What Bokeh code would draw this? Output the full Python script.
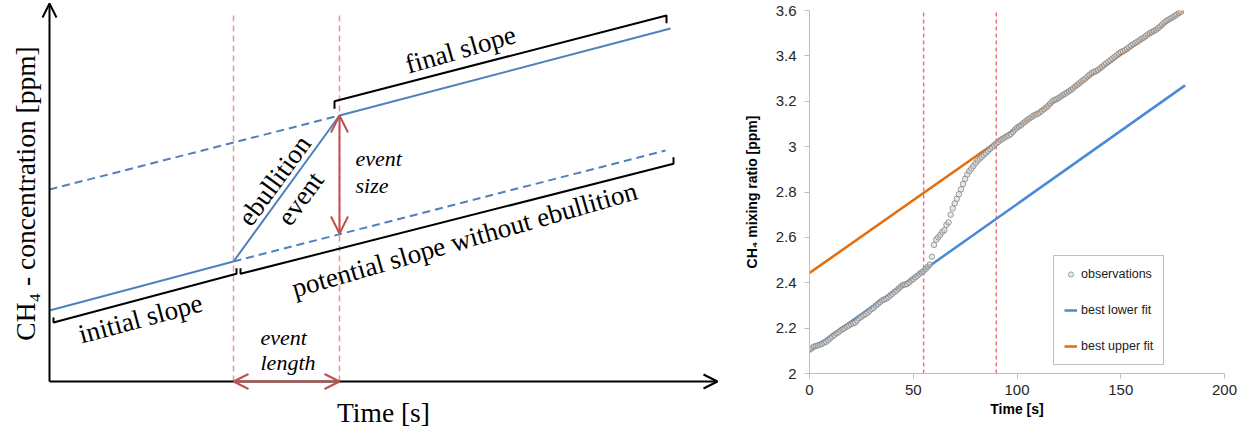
import math
from bokeh.plotting import figure
from bokeh.layouts import row
from bokeh.models import (Range1d, Arrow, OpenHead, FixedTicker, CustomJSTickFormatter,
                          Legend, LegendItem, Label)
from bokeh.core.properties import value
from bokeh.embed import file_html
from bokeh.resources import INLINE

# ------------------------------------------------------------------
# Left panel: schematic (arbitrary schematic units: time, concentration)
# ------------------------------------------------------------------
axis_time_end = 668
axis_conc_top = 378
event_bounds_schem = [184, 290]          # event start / end (schematic time)
vline_top = 366

initial_t, initial_c = [0, 184], [71, 120]
event_t, event_c = [184, 290], [120, 266]
upper_dash_t, upper_dash_c = [0, 290], [192, 266]
final_t, final_c = [290, 621], [266, 353]
lower_dash_t, lower_dash_c = [184, 616], [120, 231]

bracket_initial_t = [4, 4, 187, 187]
bracket_initial_c = [64, 59, 107.7, 113.3]
bracket_potential_t = [191, 191, 624, 624]
bracket_potential_c = [113.3, 107.7, 217.7, 224.3]
bracket_final_t = [285, 285, 617, 617]
bracket_final_c = [272.7, 280.3, 366, 358.3]

event_size_c = [266, 148]                # vertical arrow (at event end)

schem_labels = ["initial slope", "potential slope without ebullition", "final slope",
                "ebullition", "event"]
schem_label_t = [91, 415, 411, 225, 251]
schem_label_c = [63, 142, 332, 201, 183]
schem_label_angle_deg = [15, 16, 16, 54, 54]

italic_labels = ["event", "size", "event", "length"]
italic_label_t = [306, 306, 211, 211]
italic_label_c = [223, 196, 44, 19]

BLUE_S = "#4f81bd"
RED_S = "#c0504d"
RED_DASH = "#e39a97"
SERIF = "Liberation Serif"

p1 = figure(width=740, height=429, x_range=Range1d(-49, 691), y_range=Range1d(-48, 381),
            x_axis_type=None, y_axis_type=None, output_backend="svg",
            toolbar_location=None, min_border=0)
p1.outline_line_color = None
p1.grid.visible = False

for tb in event_bounds_schem:
    p1.line([tb, tb], [0, vline_top], line_color=RED_DASH, line_width=1.5, line_dash="6 4")

p1.line(initial_t, initial_c, line_color=BLUE_S, line_width=2)
p1.line(event_t, event_c, line_color=BLUE_S, line_width=2)
p1.line(final_t, final_c, line_color=BLUE_S, line_width=2)
p1.line(upper_dash_t, upper_dash_c, line_color=BLUE_S, line_width=2, line_dash="8 5")
p1.line(lower_dash_t, lower_dash_c, line_color=BLUE_S, line_width=2, line_dash="8 5")

for bt, bc in [(bracket_initial_t, bracket_initial_c),
               (bracket_potential_t, bracket_potential_c),
               (bracket_final_t, bracket_final_c)]:
    p1.line(bt, bc, line_color="black", line_width=2)

p1.add_layout(Arrow(end=OpenHead(size=14, line_width=2, line_color="black"),
                    x_start=0, y_start=0, x_end=0, y_end=axis_conc_top,
                    line_width=2, line_color="black"))
p1.add_layout(Arrow(end=OpenHead(size=14, line_width=2, line_color="black"),
                    x_start=0, y_start=0, x_end=axis_time_end, y_end=0,
                    line_width=2, line_color="black"))

p1.add_layout(Arrow(start=OpenHead(size=17, line_width=2, line_color=RED_S),
                    end=OpenHead(size=17, line_width=2, line_color=RED_S),
                    x_start=event_bounds_schem[1], y_start=event_size_c[0],
                    x_end=event_bounds_schem[1], y_end=event_size_c[1],
                    line_width=2, line_color=RED_S))
p1.add_layout(Arrow(start=OpenHead(size=15, line_width=2, line_color=RED_S),
                    end=OpenHead(size=15, line_width=2, line_color=RED_S),
                    x_start=event_bounds_schem[0], y_start=0,
                    x_end=event_bounds_schem[1], y_end=0,
                    line_width=2, line_color=RED_S))

p1.text(x=schem_label_t, y=schem_label_c, text=schem_labels,
        angle=[math.radians(a) for a in schem_label_angle_deg],
        text_font=value(SERIF), text_font_size="27px", text_color="black",
        text_align="center", text_baseline="middle")
p1.text(x=italic_label_t, y=italic_label_c, text=italic_labels,
        text_font=value(SERIF), text_font_size="22px", text_font_style="italic",
        text_color="black", text_align="left", text_baseline="middle")
p1.text(x=[-24], y=[188], text=["CH\u2084 - concentration [ppm]"], angle=math.pi / 2,
        text_font=value(SERIF), text_font_size="27.5px", text_color="black",
        text_align="center", text_baseline="middle")
p1.add_layout(Label(x=334, y=-31, text="Time [s]", text_font=SERIF, text_font_size="27.5px",
                    text_color="black", text_align="center", text_baseline="middle"))

# ------------------------------------------------------------------
# Right panel: observations and fits
# ------------------------------------------------------------------
obs_time = list(range(180))
obs_conc = [
    2.105, 2.110, 2.118, 2.121, 2.124, 2.127, 2.131, 2.136, 2.140, 2.148,
    2.156, 2.163, 2.170, 2.177, 2.182, 2.190, 2.196, 2.201, 2.207, 2.212,
    2.218, 2.222, 2.224, 2.234, 2.244, 2.250, 2.257, 2.262, 2.268, 2.277,
    2.285, 2.290, 2.300, 2.307, 2.315, 2.322, 2.326, 2.330, 2.337, 2.345,
    2.352, 2.360, 2.366, 2.375, 2.383, 2.390, 2.392, 2.395, 2.401, 2.410,
    2.417, 2.424, 2.431, 2.439, 2.446, 2.452, 2.461, 2.470, 2.480, 2.515,
    2.567, 2.590, 2.600, 2.611, 2.624, 2.632, 2.655, 2.666, 2.700, 2.728,
    2.750, 2.770, 2.790, 2.812, 2.835, 2.858, 2.877, 2.892, 2.903, 2.915,
    2.927, 2.938, 2.947, 2.955, 2.964, 2.972, 2.981, 2.990, 2.998, 3.006,
    3.014, 3.021, 3.029, 3.034, 3.040, 3.045, 3.050, 3.056, 3.065, 3.075,
    3.084, 3.089, 3.095, 3.104, 3.110, 3.118, 3.124, 3.130, 3.137, 3.141,
    3.145, 3.151, 3.158, 3.165, 3.172, 3.180, 3.190, 3.199, 3.205, 3.209,
    3.214, 3.220, 3.227, 3.232, 3.238, 3.244, 3.250, 3.257, 3.265, 3.272,
    3.279, 3.287, 3.294, 3.300, 3.309, 3.317, 3.324, 3.329, 3.332, 3.338,
    3.345, 3.352, 3.360, 3.367, 3.374, 3.380, 3.388, 3.395, 3.402, 3.410,
    3.417, 3.420, 3.425, 3.431, 3.438, 3.445, 3.451, 3.457, 3.462, 3.468,
    3.475, 3.480, 3.487, 3.494, 3.500, 3.505, 3.510, 3.515, 3.522, 3.530,
    3.538, 3.547, 3.554, 3.560, 3.565, 3.570, 3.576, 3.582, 3.589, 3.594,
]
lower_fit_time, lower_fit_conc = [0, 181], [2.100, 3.270]
upper_fit_time, upper_fit_conc = [0, 180], [2.443, 3.598]
event_bounds = [55, 90]
x_ticks = [0, 50, 100, 150, 200]
y_ticks = [2.0, 2.2, 2.4, 2.6, 2.8, 3.0, 3.2, 3.4, 3.6]

BLUE = "#4a89d8"
ORANGE = "#e46c0a"
SANS = "Liberation Sans"

p2 = figure(width=511, height=429, x_range=Range1d(0, 200), y_range=Range1d(2, 3.6),
            output_backend="svg", toolbar_location=None,
            min_border_left=68, min_border_right=27, min_border_top=10, min_border_bottom=56)
p2.outline_line_color = None
p2.grid.visible = False

for tb in event_bounds:
    p2.line([tb, tb], [2, 3.6], line_color="#f2727a", line_width=1.5, line_dash="4 3")

r_low = p2.line(lower_fit_time, lower_fit_conc, line_color=BLUE, line_width=2.5)
r_up = p2.line(upper_fit_time, upper_fit_conc, line_color=ORANGE, line_width=2.5)
r_obs = p2.scatter(obs_time, obs_conc, marker="circle", size=5.5,
                   fill_color="#d4d4d4", fill_alpha=0.5,
                   line_color="#808080", line_alpha=0.75, line_width=1)

p2.xaxis.ticker = FixedTicker(ticks=x_ticks)
p2.yaxis.ticker = FixedTicker(ticks=y_ticks)
p2.yaxis.formatter = CustomJSTickFormatter(code="return Number(tick.toFixed(1)).toString();")
for ax in (p2.xaxis, p2.yaxis):
    ax.axis_line_color = "#bfbfbf"
    ax.major_tick_line_color = "#bfbfbf"
    ax.major_tick_out = 5
    ax.major_tick_in = 0
    ax.minor_tick_line_color = None
    ax.major_label_text_font = SANS
    ax.major_label_text_font_size = "15px"
    ax.major_label_text_color = "#262626"
    ax.axis_label_text_font = SANS
    ax.axis_label_text_font_size = "14px"
    ax.axis_label_text_font_style = "bold"
    ax.axis_label_text_color = "black"
p2.xaxis.axis_label = "Time [s]"
p2.xaxis.major_label_standoff = 6
p2.xaxis.axis_label_standoff = 3
p2.yaxis.axis_label = "CH\u2084 mixing ratio [ppm]"
p2.yaxis.major_label_standoff = 8
p2.yaxis.axis_label_standoff = 13

legend = Legend(items=[LegendItem(label="observations", renderers=[r_obs]),
                       LegendItem(label="best lower fit", renderers=[r_low]),
                       LegendItem(label="best upper fit", renderers=[r_up])],
                location=(244, 8))
legend.border_line_color = "#808080"
legend.border_line_width = 1
legend.background_fill_color = "white"
legend.background_fill_alpha = 1
legend.label_text_font = SANS
legend.label_text_font_size = "12.5px"
legend.label_text_color = "#1a1a1a"
legend.glyph_width = 13
legend.glyph_height = 16
legend.label_standoff = 4
legend.spacing = 20
legend.padding = 10
legend.margin = 0
p2.add_layout(legend)

# the two panels are independent: do not align their frames
p1.frame_align = False
p2.frame_align = False

layout = row(p1, p2, spacing=0)
open("out.html", "w").write(file_html(layout, INLINE))
